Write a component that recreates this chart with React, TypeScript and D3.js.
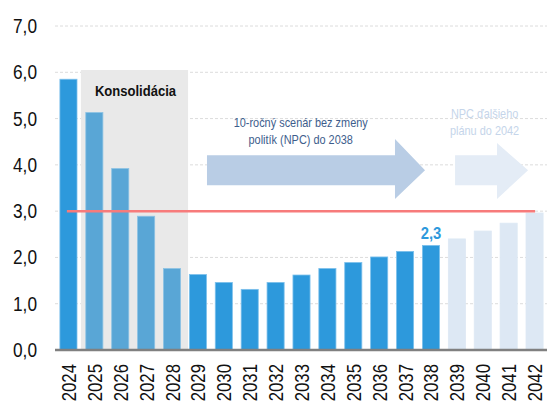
import React from "react";
import * as d3 from "d3";

const years = ["2024","2025","2026","2027","2028","2029","2030","2031","2032","2033","2034","2035","2036","2037","2038","2039","2040","2041","2042"];
const values = [5.85, 5.13, 3.92, 2.89, 1.76, 1.63, 1.46, 1.31, 1.46, 1.62, 1.76, 1.89, 2.01, 2.13, 2.26, 2.40, 2.57, 2.74, 2.96];
const kinds = ["actual","cons","cons","cons","cons","npc","npc","npc","npc","npc","npc","npc","npc","npc","npc","next","next","next","next"];
const yTicks = [0, 1, 2, 3, 4, 5, 6, 7];
const threshold = 3.0;
const consolidationLabel = "Konsolidácia";
const arrow1Lines = ["10-ročný scenár bez zmeny", "politík (NPC) do 2038"];
const arrow2Lines = ["NPC ďalšieho", "plánu do 2042"];
const highlightLabel = "2,3";

const W = 547, H = 401;
const colors: Record<string, string> = {
  actual: "#2d99dc",
  cons: "#59a6d6",
  npc: "#2d99dc",
  next: "#dde8f4",
};
const strokes: Record<string, string> = {
  actual: "#7cc0ec",
  cons: "#8cc2e4",
  npc: "#7cc0ec",
  next: "#dde8f4",
};

export default function App() {
  const x = d3.scaleBand<string>().domain(years).range([55.5, 547.5]).paddingInner(0.34).paddingOuter(0.17);
  const y = d3.scaleLinear().domain([0, 7]).range([350, 26]);
  const step = x.step();
  const xi = (i: number) => (x(years[0]) as number) + i * step; // fractional index position
  const fmt = (v: number) => v.toFixed(1).replace(".", ",");

  const arrow = (x0: number, xh: number, xt: number, b0: number, b1: number, h0: number, h1: number) => {
    const mid = (y(b0) + y(b1)) / 2;
    return `M${xi(x0)},${y(b0)} L${xi(xh)},${y(b0)} L${xi(xh)},${y(h0)} L${xi(xt)},${mid} L${xi(xh)},${y(h1)} L${xi(xh)},${y(b1)} L${xi(x0)},${y(b1)} Z`;
  };

  const font = "'Liberation Sans', Arial, sans-serif";
  const i2038 = years.indexOf("2038");
  const T = (props: { x: number; y: number; sx: number; rot?: number; children: React.ReactNode; [k: string]: any }) => {
    const { x: tx, y: ty, sx, rot, children, ...rest } = props;
    return (
      <text transform={`translate(${tx},${ty})${rot ? ` rotate(${rot})` : ""} scale(${sx},1)`} {...rest}>{children}</text>
    );
  };

  return (
    <svg width={W} height={H} style={{ position: "absolute", left: 0, top: 0 }} fontFamily={font}>
      {/* gridlines */}
      {yTicks.filter(t => t > 0).map(t => (
        <line key={t} x1={55} x2={547} y1={y(t)} y2={y(t)} stroke="#dcdcdc" strokeWidth={1} strokeDasharray="3,2" />
      ))}
      {/* consolidation shading */}
      <rect x={xi(0.81)} y={y(6.05)} width={xi(4.95) - xi(0.81)} height={y(0) - y(6.05)} fill="#e9e9e9" />
      <T x={(xi(0.81) + xi(4.95)) / 2 + 1} y={96} sx={0.87} textAnchor="middle" fontWeight="bold" fontSize={15} fill="#111">{consolidationLabel}</T>
      {/* arrows */}
      <path d={arrow(5.68, 12.94, 14.1, 4.21, 3.56, 4.56, 3.26)} fill="#b9cde5" />
      <path d={arrow(15.26, 16.88, 18.08, 4.21, 3.56, 4.47, 3.26)} fill="#e4ecf6" />
      {arrow1Lines.map((s, i) => (
        <T key={s} x={xi(9.3)} y={127 + i * 17} sx={0.91} textAnchor="middle" fontSize={12} fill="#3d5d8c">{s}</T>
      ))}
      {arrow2Lines.map((s, i) => (
        <T key={s} x={xi(16.4)} y={118 + i * 17} sx={0.91} textAnchor="middle" fontSize={12} fill="#c5d5ea">{s}</T>
      ))}
      {/* bars */}
      {years.map((yr, i) => (
        <rect key={yr} x={x(yr)} y={y(values[i])} width={x.bandwidth()} height={y(0) - y(values[i])} fill={colors[kinds[i]]} stroke={strokes[kinds[i]]} strokeWidth={0.8} />
      ))}
      {/* threshold line */}
      <line x1={xi(0.27)} x2={xi(18.35)} y1={y(threshold)} y2={y(threshold)} stroke="#f77b7b" strokeWidth={2.5} />
      {/* highlight label */}
      <T x={(x("2038") as number) + x.bandwidth() / 2} y={y(values[i2038]) - 6} sx={0.87} textAnchor="middle" fontWeight="bold" fontSize={17} fill="#2d99dc">{highlightLabel}</T>
      {/* baseline */}
      <line x1={55} x2={547} y1={y(0)} y2={y(0)} stroke="#808080" strokeWidth={2.5} />
      {/* y tick labels */}
      {yTicks.map(t => (
        <T key={t} x={37} y={y(t) + 7} sx={0.885} textAnchor="end" fontSize={19.5} fill="#111">{fmt(t)}</T>
      ))}
      {/* x labels */}
      {years.map(yr => {
        const cx = (x(yr) as number) + x.bandwidth() / 2;
        return (
          <T key={yr} x={cx + 7.5} y={364} rot={-90} sx={0.84} textAnchor="end" fontSize={20} fill="#111">{yr}</T>
        );
      })}
    </svg>
  );
}
